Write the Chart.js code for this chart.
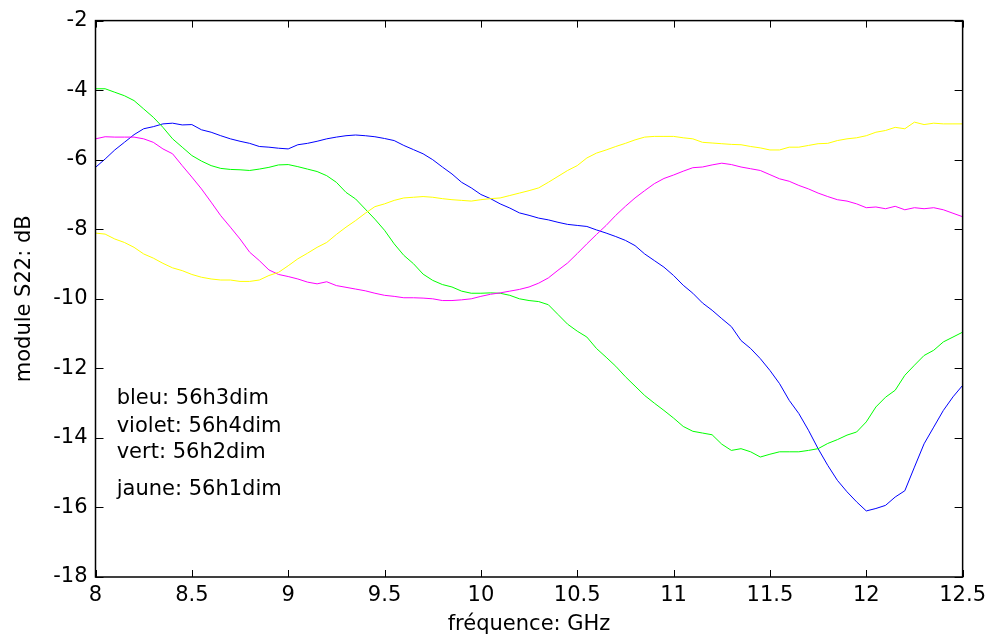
<!DOCTYPE html>
<html>
<head>
<meta charset="utf-8">
<script src="https://cdn.jsdelivr.net/npm/chart.js@4.4.1/dist/chart.umd.min.js"></script>
<style>
  html, body { margin: 0; padding: 0; background: #fff; }
  canvas { display: block; }
</style>
</head>
<body>
<canvas id="c" width="992" height="635"></canvas>
<script>
// ---- data ----
const freq = [8.00, 8.05, 8.10, 8.15, 8.20, 8.25, 8.30, 8.35, 8.40, 8.45,
              8.50, 8.55, 8.60, 8.65, 8.70, 8.75, 8.80, 8.85, 8.90, 8.95,
              9.00, 9.05, 9.10, 9.15, 9.20, 9.25, 9.30, 9.35, 9.40, 9.45,
              9.50, 9.55, 9.60, 9.65, 9.70, 9.75, 9.80, 9.85, 9.90, 9.95,
              10.00, 10.05, 10.10, 10.15, 10.20, 10.25, 10.30, 10.35, 10.40, 10.45,
              10.50, 10.55, 10.60, 10.65, 10.70, 10.75, 10.80, 10.85, 10.90, 10.95,
              11.00, 11.05, 11.10, 11.15, 11.20, 11.25, 11.30, 11.35, 11.40, 11.45,
              11.50, 11.55, 11.60, 11.65, 11.70, 11.75, 11.80, 11.85, 11.90, 11.95,
              12.00, 12.05, 12.10, 12.15, 12.20, 12.25, 12.30, 12.35, 12.40, 12.45,
              12.50];

const bleu = [-6.22, -5.98, -5.72, -5.50, -5.28, -5.11, -5.05, -4.97, -4.95, -5.00,
              -4.99, -5.14, -5.21, -5.31, -5.40, -5.47, -5.53, -5.62, -5.64, -5.67,
              -5.69, -5.57, -5.53, -5.47, -5.40, -5.35, -5.31, -5.29, -5.31, -5.34,
              -5.39, -5.45, -5.59, -5.71, -5.83, -6.00, -6.21, -6.41, -6.65, -6.81,
              -7.00, -7.12, -7.27, -7.39, -7.53, -7.60, -7.68, -7.73, -7.80, -7.86,
              -7.89, -7.92, -8.02, -8.11, -8.21, -8.32, -8.47, -8.71, -8.90, -9.09,
              -9.33, -9.61, -9.84, -10.12, -10.33, -10.57, -10.80, -11.20, -11.43, -11.72,
              -12.06, -12.44, -12.92, -13.30, -13.78, -14.31, -14.79, -15.22, -15.55, -15.84,
              -16.10, -16.03, -15.94, -15.70, -15.52, -14.84, -14.17, -13.69, -13.21, -12.82,
              -12.49];

const violet = [-5.40, -5.34, -5.35, -5.35, -5.35, -5.40, -5.50, -5.69, -5.83, -6.17,
                -6.50, -6.84, -7.22, -7.61, -7.94, -8.28, -8.66, -8.90, -9.17, -9.30,
                -9.36, -9.43, -9.52, -9.57, -9.51, -9.62, -9.67, -9.72, -9.77, -9.84,
                -9.90, -9.93, -9.97, -9.97, -9.98, -10.00, -10.05, -10.05, -10.03, -10.00,
                -9.93, -9.87, -9.83, -9.78, -9.73, -9.66, -9.55, -9.40, -9.18, -8.97,
                -8.70, -8.42, -8.15, -7.89, -7.60, -7.34, -7.10, -6.89, -6.69, -6.54,
                -6.44, -6.33, -6.23, -6.21, -6.15, -6.10, -6.14, -6.21, -6.26, -6.31,
                -6.43, -6.55, -6.62, -6.74, -6.84, -6.96, -7.06, -7.15, -7.19, -7.27,
                -7.38, -7.36, -7.41, -7.34, -7.44, -7.38, -7.41, -7.38, -7.44, -7.54,
                -7.64];

const vert = [-3.96, -3.96, -4.06, -4.16, -4.30, -4.54, -4.78, -5.07, -5.40, -5.64,
              -5.88, -6.04, -6.17, -6.25, -6.28, -6.29, -6.31, -6.27, -6.22, -6.15,
              -6.14, -6.20, -6.27, -6.34, -6.46, -6.65, -6.94, -7.13, -7.42, -7.71,
              -8.03, -8.42, -8.75, -8.99, -9.29, -9.47, -9.59, -9.66, -9.78, -9.84,
              -9.84, -9.83, -9.84, -9.90, -10.00, -10.05, -10.08, -10.17, -10.45, -10.73,
              -10.93, -11.10, -11.43, -11.68, -11.94, -12.24, -12.51, -12.78, -13.00, -13.21,
              -13.43, -13.67, -13.81, -13.86, -13.91, -14.18, -14.36, -14.31, -14.40, -14.55,
              -14.47, -14.40, -14.40, -14.40, -14.36, -14.31, -14.16, -14.05, -13.92, -13.83,
              -13.54, -13.11, -12.83, -12.63, -12.20, -11.91, -11.63, -11.48, -11.24, -11.10,
              -10.96];

const jaune = [-8.11, -8.14, -8.28, -8.38, -8.52, -8.71, -8.83, -8.98, -9.11, -9.19,
               -9.30, -9.38, -9.43, -9.46, -9.46, -9.50, -9.50, -9.46, -9.33, -9.24,
               -9.05, -8.85, -8.69, -8.52, -8.38, -8.15, -7.94, -7.75, -7.54, -7.35,
               -7.27, -7.17, -7.10, -7.08, -7.06, -7.08, -7.12, -7.15, -7.17, -7.19,
               -7.15, -7.12, -7.10, -7.03, -6.96, -6.89, -6.81, -6.65, -6.48, -6.31,
               -6.17, -5.95, -5.81, -5.72, -5.62, -5.53, -5.43, -5.35, -5.33, -5.33,
               -5.33, -5.37, -5.40, -5.50, -5.52, -5.54, -5.56, -5.57, -5.62, -5.66,
               -5.72, -5.72, -5.64, -5.64, -5.59, -5.54, -5.53, -5.45, -5.40, -5.37,
               -5.31, -5.21, -5.16, -5.07, -5.11, -4.92, -4.99, -4.95, -4.97, -4.97,
               -4.97];

const xTicks = [8, 8.5, 9, 9.5, 10, 10.5, 11, 11.5, 12, 12.5];
const yTicks = [-18, -16, -14, -12, -10, -8, -6, -4, -2];

const noteLabels = ['bleu: 56h3dim', 'violet: 56h4dim', 'vert: 56h2dim', 'jaune: 56h1dim'];
const noteFreq = 8.11;
const noteLevel = [-13.03, -13.83, -14.57, -15.65];

// ---- chart ----
const FONT = '"DejaVu Sans", Arial, sans-serif';
const toPts = (ys) => freq.map((f, i) => ({ x: f, y: ys[i] }));

const frame = {
  id: 'frame',
  afterDatasetsDraw(chart) {
    const { ctx, chartArea: a, scales: { x, y } } = chart;
    ctx.save();
    ctx.strokeStyle = '#000';
    ctx.lineWidth = 1.5;
    ctx.strokeRect(a.left, a.top, a.right - a.left, a.bottom - a.top);
    ctx.lineWidth = 1;
    ctx.beginPath();
    x.ticks.forEach(t => {
      const px = Math.round(x.getPixelForValue(t.value)) + 0.5;
      ctx.moveTo(px, a.bottom); ctx.lineTo(px, a.bottom - 7);
      ctx.moveTo(px, a.top); ctx.lineTo(px, a.top + 7);
    });
    y.ticks.forEach(t => {
      const py = Math.round(y.getPixelForValue(t.value)) + 0.5;
      ctx.moveTo(a.left, py); ctx.lineTo(a.left + 8, py);
      ctx.moveTo(a.right, py); ctx.lineTo(a.right - 8, py);
    });
    ctx.stroke();
    ctx.font = '21px ' + FONT;
    ctx.fillStyle = '#000';
    ctx.textAlign = 'left';
    ctx.textBaseline = 'alphabetic';
    noteLabels.forEach((s, i) => {
      ctx.fillText(s, x.getPixelForValue(noteFreq), y.getPixelForValue(noteLevel[i]));
    });
    ctx.restore();
  }
};

const ds = (label, data, color) => ({
  label, data: toPts(data), borderColor: color, backgroundColor: color,
  borderWidth: 1, pointRadius: 0, tension: 0, fill: false
});

new Chart(document.getElementById('c'), {
  type: 'line',
  data: {
    datasets: [
      ds('jaune: 56h1dim', jaune, '#ffff00'),
      ds('violet: 56h4dim', violet, '#ff00ff'),
      ds('vert: 56h2dim', vert, '#00ff00'),
      ds('bleu: 56h3dim', bleu, '#0000ff')
    ]
  },
  options: {
    responsive: false,
    animation: false,
    parsing: true,
    layout: { padding: { left: 0, right: 29, top: 20, bottom: 0 } },
    plugins: { legend: { display: false }, tooltip: { enabled: false } },
    scales: {
      x: {
        type: 'linear', min: 8, max: 12.5,
        afterBuildTicks: (s) => { s.ticks = xTicks.map(v => ({ value: v })); },
        afterFit: (s) => { s.height = 58; },
        grid: { display: false, drawTicks: false },
        border: { display: false },
        ticks: { color: '#000', padding: 6, font: { family: FONT, size: 21 }, callback: (v) => String(v) },
        title: { display: true, text: 'fréquence: GHz', color: '#000',
                 font: { family: FONT, size: 21, lineHeight: 1 }, padding: { top: 0, bottom: 0 } }
      },
      y: {
        type: 'linear', min: -18, max: -2,
        afterBuildTicks: (s) => { s.ticks = yTicks.map(v => ({ value: v })); },
        afterFit: (s) => { s.width = 95.5; },
        grid: { display: false, drawTicks: false },
        border: { display: false },
        ticks: { color: '#000', padding: 8, font: { family: FONT, size: 21 }, callback: (v) => String(v) },
        title: { display: true, text: 'module S22: dB', color: '#000',
                 font: { family: FONT, size: 21, lineHeight: 1 }, padding: { top: 14, bottom: 0 } }
      }
    }
  },
  plugins: [frame]
});
</script>
</body>
</html>
